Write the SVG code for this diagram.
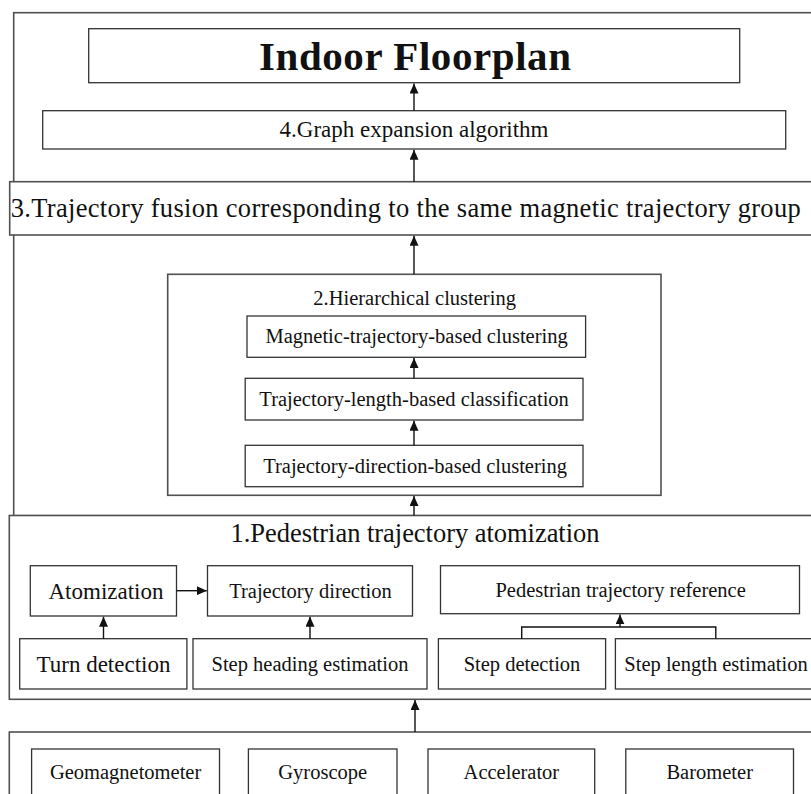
<svg xmlns="http://www.w3.org/2000/svg" width="811" height="794" viewBox="0 0 811 794">
<style>
  .frame{fill:#fff;stroke:#505050;stroke-width:1.6}
  .box{fill:#fff;stroke:#333;stroke-width:1.3}
  .t{font-family:"Liberation Serif","Times New Roman",serif;fill:#111;text-anchor:middle}
  .s{font-size:20.5px}
  .m{font-size:23px}
  .l{font-size:26.5px}
  .c{fill:none;stroke:#111;stroke-width:1.4}
</style>
<defs>
  <marker id="ah" markerUnits="userSpaceOnUse" markerWidth="10" markerHeight="9" refX="10" refY="4.5" orient="auto">
    <path d="M0,0 L10,4.5 L0,9 z" fill="#111"/>
  </marker>
</defs>
<rect width="811" height="794" fill="#fff"/>
<g id="outer-frame"><rect class="frame" x="13.7" y="12.7" width="820" height="503"/></g>
<g id="indoor-floorplan"><rect class="box" x="88.7" y="28.7" width="651" height="54"/>
  <text class="t" x="415" y="70" style="font-size:41px;font-weight:bold" textLength="312">Indoor Floorplan</text></g>
<g id="graph-expansion"><rect class="box" x="42.7" y="110.7" width="743" height="38.3"/>
  <text class="t m" x="414" y="137">4.Graph expansion algorithm</text></g>
<g id="trajectory-fusion"><rect class="frame" x="9.7" y="181.7" width="820" height="53.3"/>
  <text class="t l" x="405.7" y="217" textLength="790">3.Trajectory fusion corresponding to the same magnetic trajectory group</text></g>
<g id="hierarchical-clustering"><rect class="frame" x="167.7" y="274.3" width="493.3" height="221"/>
  <text class="t s" x="414.6" y="305">2.Hierarchical clustering</text></g>
<g id="magnetic-clustering"><rect class="box" x="247" y="316" width="338.6" height="41.3"/>
  <text class="t s" x="416.6" y="343">Magnetic-trajectory-based clustering</text></g>
<g id="length-classification"><rect class="box" x="245.2" y="378.3" width="337.8" height="41.7"/>
  <text class="t s" x="414.1" y="406">Trajectory-length-based classification</text></g>
<g id="direction-clustering"><rect class="box" x="245.2" y="445.3" width="337.8" height="41.4"/>
  <text class="t s" x="415.1" y="473">Trajectory-direction-based clustering</text></g>
<g id="atomization-stage"><rect class="frame" x="9.3" y="515.5" width="820" height="183.8"/>
  <text class="t l" x="415" y="542" textLength="369">1.Pedestrian trajectory atomization</text></g>
<g id="atomization"><rect class="box" x="30.3" y="565.7" width="146.2" height="50.3"/>
  <text class="t m" x="106" y="599">Atomization</text></g>
<g id="trajectory-direction"><rect class="box" x="207.5" y="565.7" width="205" height="50.3"/>
  <text class="t s" x="310.5" y="598">Trajectory direction</text></g>
<g id="pedestrian-reference"><rect class="box" x="440.5" y="565.7" width="359" height="48"/>
  <text class="t s" x="620.6" y="596.5">Pedestrian trajectory reference</text></g>
<g id="turn-detection"><rect class="box" x="19.7" y="638.7" width="167.2" height="50.3"/>
  <text class="t m" x="103.5" y="671.5">Turn detection</text></g>
<g id="step-heading"><rect class="box" x="193" y="638.7" width="234" height="50.3"/>
  <text class="t s" x="310" y="671">Step heading estimation</text></g>
<g id="step-detection"><rect class="box" x="438.4" y="638.7" width="167.2" height="50.3"/>
  <text class="t s" x="522" y="671">Step detection</text></g>
<g id="step-length"><rect class="box" x="615.4" y="638.7" width="202" height="50.3"/>
  <text class="t s" x="716" y="671">Step length estimation</text></g>
<g id="sensors"><rect class="frame" x="9.3" y="732" width="820" height="80"/></g>
<g id="geomagnetometer"><rect class="box" x="31.6" y="749" width="187.9" height="60"/>
  <text class="t s" x="125.6" y="779">Geomagnetometer</text></g>
<g id="gyroscope"><rect class="box" x="248.4" y="749" width="148.6" height="60"/>
  <text class="t s" x="322.7" y="779">Gyroscope</text></g>
<g id="accelerator"><rect class="box" x="428" y="749" width="166.7" height="60"/>
  <text class="t s" x="511.4" y="779">Accelerator</text></g>
<g id="barometer"><rect class="box" x="625.8" y="749" width="167.7" height="60"/>
  <text class="t s" x="709.7" y="779">Barometer</text></g>
<g id="connectors">
  <line class="c" x1="414" y1="110.7" x2="414" y2="83.5" marker-end="url(#ah)"/>
  <line class="c" x1="414" y1="181.7" x2="414" y2="149.8" marker-end="url(#ah)"/>
  <line class="c" x1="414" y1="274.3" x2="414" y2="235.8" marker-end="url(#ah)"/>
  <line class="c" x1="414" y1="378.3" x2="414" y2="358" marker-end="url(#ah)"/>
  <line class="c" x1="414" y1="445.3" x2="414" y2="420.7" marker-end="url(#ah)"/>
  <line class="c" x1="414" y1="515.5" x2="414" y2="496" marker-end="url(#ah)"/>
  <line class="c" x1="415" y1="732" x2="415" y2="700" marker-end="url(#ah)"/>
  <line class="c" x1="176.5" y1="590.7" x2="206.8" y2="590.7" marker-end="url(#ah)"/>
  <line class="c" x1="103.5" y1="638.7" x2="103.5" y2="616.7" marker-end="url(#ah)"/>
  <line class="c" x1="310" y1="638.7" x2="310" y2="616.7" marker-end="url(#ah)"/>
  <polyline class="c" points="521.7,638.7 521.7,627 715.8,627 715.8,638.7"/>
  <line class="c" x1="620" y1="627" x2="620" y2="614.4" marker-end="url(#ah)"/>
</g>
</svg>
